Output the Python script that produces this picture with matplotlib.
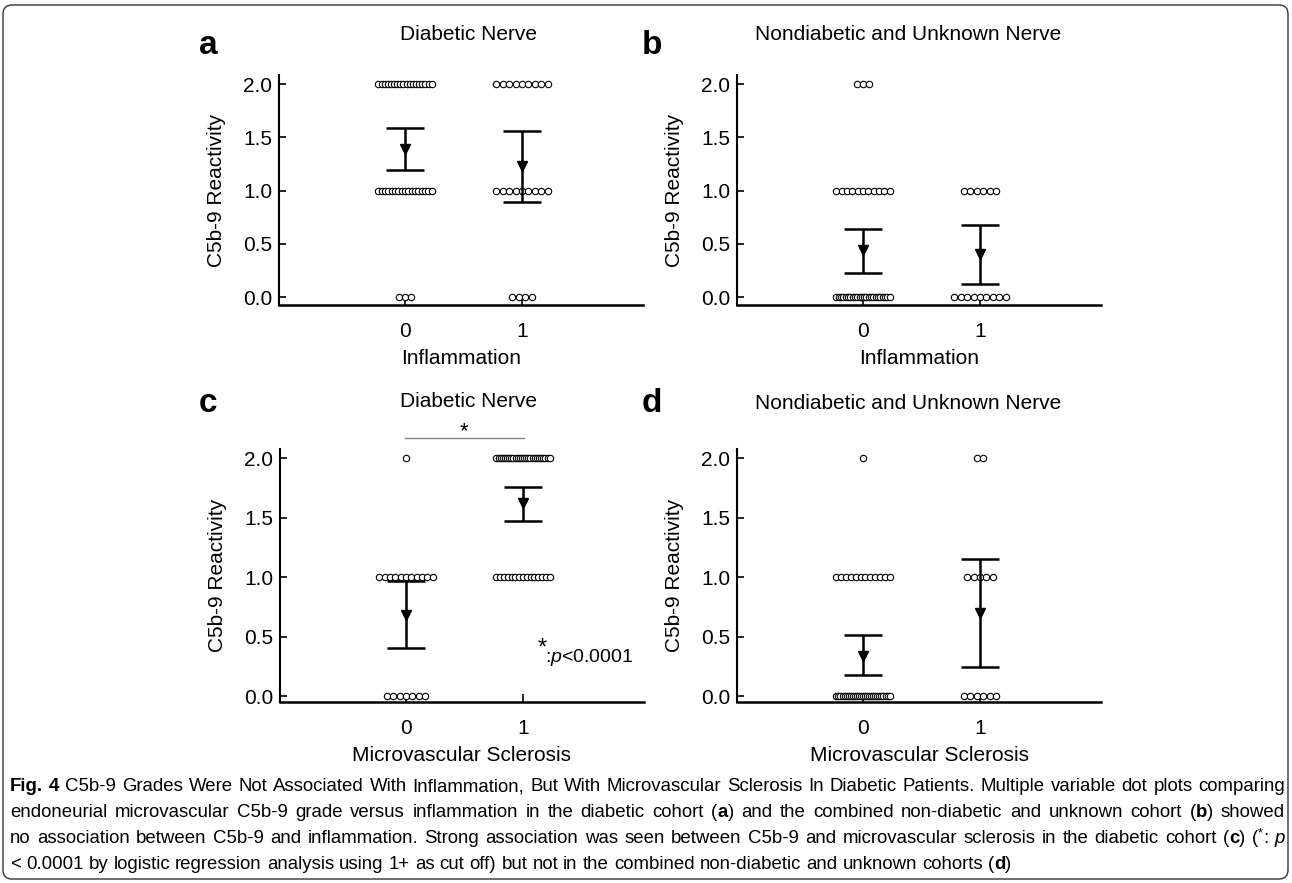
import re
import numpy as np
import matplotlib
matplotlib.use('Agg')
import matplotlib.pyplot as plt
from matplotlib import font_manager as fm
from matplotlib.patches import FancyBboxPatch

plt.rcParams['font.family'] = ['Liberation Sans', 'DejaVu Sans']
plt.rcParams['mathtext.fontset'] = 'custom'
plt.rcParams['mathtext.rm'] = 'Liberation Sans'
plt.rcParams['mathtext.it'] = 'Liberation Sans:italic'

W, H = 1292, 883

# ---- data: number of nerves per C5b-9 grade (0, 1, 2), for group 0 and group 1
grades = [0, 1, 2]
groups = [0, 1]
a_counts = [[3, 17, 18], [4, 9, 9]]
b_counts = [[24, 11, 3], [9, 6, 0]]
c_counts = [[7, 11, 1], [0, 15, 26]]
d_counts = [[27, 12, 1], [6, 5, 2]]

# mean and 95% CI
a_mean, a_low, a_high = [1.39, 1.23], [1.19, 0.89], [1.59, 1.56]
b_mean, b_low, b_high = [0.44, 0.40], [0.23, 0.12], [0.64, 0.68]
c_mean, c_low, c_high = [0.68, 1.62], [0.40, 1.47], [0.97, 1.76]
d_mean, d_low, d_high = [0.34, 0.70], [0.18, 0.24], [0.51, 1.15]

titles = ['Diabetic Nerve', 'Nondiabetic and Unknown Nerve',
          'Diabetic Nerve', 'Nondiabetic and Unknown Nerve']
letters = ['a', 'b', 'c', 'd']
xlabels = ['Inflammation', 'Inflammation',
           'Microvascular Sclerosis', 'Microvascular Sclerosis']
ylabel = 'C5b-9 Reactivity'
yticks = [0.0, 0.5, 1.0, 1.5, 2.0]

caption_lines = [
    "**Fig. 4** C5b-9 Grades Were Not Associated With Inflammation, But With Microvascular Sclerosis In Diabetic Patients. Multiple variable dot plots comparing",
    "endoneurial microvascular C5b-9 grade versus inflammation in the diabetic cohort (**a**) and the combined non-diabetic and unknown cohort (**b**) showed",
    "no association between C5b-9 and inflammation. Strong association was seen between C5b-9 and microvascular sclerosis in the diabetic cohort (**c**) (^*^: _p_",
    "< 0.0001 by logistic regression analysis using 1+ as cut off) but not in the combined non-diabetic and unknown cohorts (**d**)",
]

# layout (pixels): left, top, right, bottom of each axes
boxes = [(279, 75, 643, 305), (737, 75, 1101, 305),
         (280, 449, 644, 702), (737, 449, 1101, 702)]
ylims = [(-0.075, 2.085), (-0.075, 2.085), (-0.05, 2.076), (-0.05, 2.076)]
title_pos = [(468, 35), (908, 35), (468, 402), (908, 403)]
letter_pos = [(208, 46), (652, 46), (208, 404), (652, 404)]

FS = 15


def fx(x):
    return x / W


def fy(y):
    return 1 - y / H


def dot_row(ax, x0, grade, n):
    if n == 0:
        return
    step = 0.055 if n < 2 else min(0.055, 0.455 / (n - 1))
    xs = x0 + (np.arange(n) - (n - 1) / 2) * step
    ax.plot(xs, np.full(n, grade), 'o', ms=4.6, mfc='white', mec='black',
            mew=0.8, zorder=3, clip_on=False)


fig = plt.figure(figsize=(W / 100, H / 100), dpi=100)

panels = [(a_counts, a_mean, a_low, a_high), (b_counts, b_mean, b_low, b_high),
          (c_counts, c_mean, c_low, c_high), (d_counts, d_mean, d_low, d_high)]

axes = []
for i, (counts, mean, low, high) in enumerate(panels):
    l, t, r, b = boxes[i]
    ax = fig.add_axes([fx(l), fy(b), (r - l) / W, (b - t) / H])
    axes.append(ax)
    for g in groups:
        for k in grades:
            dot_row(ax, g, k, counts[g][k])
        m = mean[g]
        ax.errorbar(g, m, yerr=[[m - low[g]], [high[g] - m]], fmt='v',
                    color='black', ms=6.5, elinewidth=1.8, capsize=13.5,
                    capthick=1.8, zorder=4)
    ax.set_xlim(-1.077, 2.034)
    ax.set_ylim(*ylims[i])
    ax.set_xticks(groups)
    ax.set_xticklabels(['0', '1'])
    ax.set_yticks(yticks)
    ax.set_yticklabels([f'{v:.1f}' for v in yticks])
    ax.tick_params(axis='x', direction='in', length=6, width=1.2, pad=12,
                   labelsize=FS)
    ax.tick_params(axis='y', direction='in', length=5, width=1.2, pad=5,
                   labelsize=FS)
    for s in ['top', 'right']:
        ax.spines[s].set_visible(False)
    ax.spines['left'].set_linewidth(1.5)
    ax.spines['bottom'].set_linewidth(1.8)
    ax.set_xlabel(xlabels[i], fontsize=FS, labelpad=6)
    ax.set_ylabel(ylabel, fontsize=FS, labelpad=12)
    ax.patch.set_visible(False)

    fig.text(fx(title_pos[i][0]), fy(title_pos[i][1]), titles[i], fontsize=FS,
             ha='center', va='center')
    fig.text(fx(letter_pos[i][0]), fy(letter_pos[i][1]), letters[i],
             fontsize=24, fontweight='bold', ha='center', va='center')

# significance in panel c
axc = axes[2]
axc.plot([-0.01, 1.01], [2.168, 2.168], color='#808080', lw=1, clip_on=False)
axc.text(0.5, 2.22, '*', fontsize=16, ha='center', va='center')
axc.text(1.16, 0.40, '*', fontsize=17, ha='center', va='center')
axc.text(1.185, 0.32, r':$\mathit{p}$<0.0001', fontsize=14, ha='left',
         va='center')

# ---- caption
cap_family = ['Liberation Sans']
try:
    fm.findfont(fm.FontProperties(family='Liberation Sans Narrow'),
                fallback_to_default=False)
    cap_family = ['Liberation Sans Narrow', 'Liberation Sans']
except Exception:
    pass

renderer = fig.canvas.get_renderer()


def parse(line):
    runs = []
    for part in re.split(r'(\*\*.+?\*\*|_.+?_|\^.+?\^)', line):
        if not part:
            continue
        if part.startswith('**'):
            runs.append((part[2:-2], 'bold'))
        elif part.startswith('_'):
            runs.append((part[1:-1], 'italic'))
        elif part.startswith('^'):
            runs.append((part[1:-1], 'sup'))
        else:
            runs.append((part, 'normal'))
    words = [[]]
    for text, style in runs:
        chunks = text.split(' ')
        for j, ch in enumerate(chunks):
            if j > 0:
                words.append([])
            if ch:
                words[-1].append((ch, style))
    return [w for w in words if w]


def piece_kw(style, size):
    kw = dict(family=cap_family, fontsize=size)
    if style == 'bold':
        kw['fontweight'] = 'bold'
    if style == 'italic':
        kw['fontstyle'] = 'italic'
    if style == 'sup':
        kw['fontsize'] = size * 0.7
    return kw


def measure(text, kw):
    t = fig.text(0, 0, text, **kw)
    w = t.get_window_extent(renderer).width
    t.remove()
    return w


def word_width(word, size):
    return sum(measure(p, piece_kw(s, size)) for p, s in word)


parsed = [parse(l) for l in caption_lines]

# pick caption size so that the first line fills the text width
x_left, x_right = 10, 1285
probe = 12
plain = re.sub(r'\*\*|\^|_', '', caption_lines[0])
cap_size = probe * (x_right - x_left - 6) / measure(plain, dict(family=cap_family, fontsize=probe))
space = measure('x x', dict(family=cap_family, fontsize=cap_size)) - \
    measure('xx', dict(family=cap_family, fontsize=cap_size))

baselines = [791, 817, 843, 869]
for li, words in enumerate(parsed):
    widths = [word_width(w, cap_size) for w in words]
    if li < 3:
        gap = (x_right - x_left - sum(widths)) / (len(words) - 1)
    else:
        gap = space
    x = x_left
    for w, ww in zip(words, widths):
        xx = x
        for p, s in w:
            kw = piece_kw(s, cap_size)
            yb = baselines[li] - (7 if s == 'sup' else 0)
            t = fig.text(fx(xx), fy(yb), p, ha='left', va='baseline', **kw)
            xx += t.get_window_extent(renderer).width
        x += ww + gap

# frame round the figure
frame = FancyBboxPatch((3, 4), W - 7, H - 9,
                       boxstyle='round,pad=0,rounding_size=9',
                       transform=None, fill=False, ec='#333333', lw=1.0)
fig.patches.append(frame)

fig.savefig('out.png', dpi=100, facecolor='white')
